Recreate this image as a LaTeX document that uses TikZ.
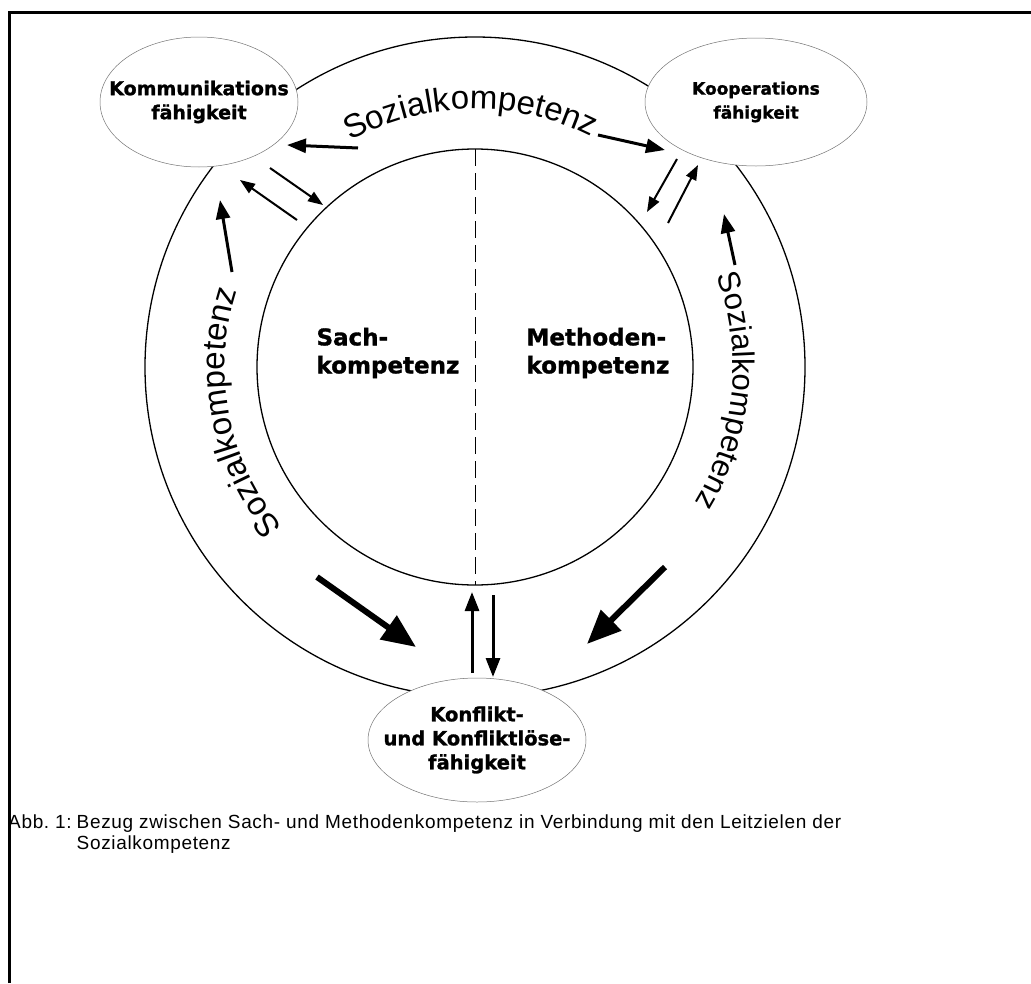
\documentclass[tikz,border=0pt]{standalone}
\usepackage{fontspec}
\setmainfont{Liberation Sans}
\newfontfamily\heavyfont[BoldFeatures={FakeBold=1.3}]{DejaVu Sans}
\newfontfamily\capfont[LetterSpace=3.5]{Liberation Sans}
\usetikzlibrary{shapes.geometric,arrows.meta,decorations.text}

\begin{document}
\begin{tikzpicture}[x=1pt,y=1pt,
    field/.style={ellipse,draw=black!55,line width=.5pt,fill=white,
        inner xsep=-20pt,inner ysep=0pt,align=center,
        font=\heavyfont\bfseries\fontsize{19}{24}\selectfont},
    core/.style={anchor=west,align=left,
        font=\heavyfont\bfseries\fontsize{23}{28}\selectfont},
    ring/.style={line width=1.3pt},
    thinarr/.style={-{Triangle[length=15pt,width=11pt]},line width=2pt},
    midarr/.style={-{Triangle[length=19pt,width=14pt]},line width=3pt},
    bigarr/.style={-{Triangle[length=34pt,width=28pt]},line width=6pt},
    soz/.style={decorate,decoration={text along path,text align=center,
        text={|\fontsize{#1}{#1}\selectfont|Sozialkompetenz}}}]

    \useasboundingbox (0,0) rectangle (1031,-983);

    % frame
    \draw[line width=3pt] (9,-983) -- (9,-12) -- (1031,-12);

    % the rings
    \coordinate (ctr) at (475,-367);
    \coordinate (ctop) at (475,-149);
    \coordinate (cbot) at (475,-585);
    \draw[ring] (ctr) circle[radius=330];
    \draw[ring] (ctr) circle[radius=218];
    \draw[dash pattern=on 17pt off 7pt,line width=1pt] (ctop) -- (cbot);

    % the curved texts
    \path[soz=33] ([shift={(131:258)}]ctr) arc[start angle=131,end angle=51,radius=258];
    \path[soz=33] ([shift={(236:250)}]ctr) arc[start angle=236,end angle=146,radius=250];
    \path[soz=31] ([shift={(37:258)}]ctr) arc[start angle=37,end angle=-48,radius=258];

    % the fields
    \node[field,minimum width=198,minimum height=130] (komm) at (199,-102)
        {Kommunikations\\fähigkeit};
    \node[field,minimum width=222,minimum height=128,
        font=\heavyfont\bfseries\fontsize{17}{24}\selectfont] (koop) at (756,-102)
        {Kooperations\\fähigkeit};
    \node[field,minimum width=218,minimum height=124,
        font=\heavyfont\bfseries\fontsize{19.5}{24}\selectfont] (konf) at (477,-740)
        {Konflikt-\\und Konfliktlöse-\\fähigkeit};

    \node[core] (sach) at (313,-353) {Sach-\\kompetenz};
    \node[core] (meth) at (523,-353) {Methoden-\\kompetenz};

    % the arrows
    \coordinate (tl1) at (358,-148); \coordinate (tl2) at (287,-145);
    \coordinate (tr1) at (598,-135); \coordinate (tr2) at (665,-150);
    \coordinate (ka1) at (270,-168); \coordinate (ka2) at (323,-205);
    \coordinate (kb1) at (297,-220); \coordinate (kb2) at (240,-180);
    \coordinate (oa1) at (677,-159); \coordinate (oa2) at (647,-212);
    \coordinate (ob1) at (668,-223); \coordinate (ob2) at (698,-165);
    \coordinate (lu1) at (232,-272); \coordinate (lu2) at (220,-200);
    \coordinate (ru1) at (735,-265); \coordinate (ru2) at (724,-214);
    \coordinate (bl1) at (317,-577); \coordinate (bl2) at (416,-647);
    \coordinate (br1) at (665,-567); \coordinate (br2) at (587,-644);
    \coordinate (bu1) at (472,-673); \coordinate (bu2) at (472,-592);
    \coordinate (bd1) at (493,-595); \coordinate (bd2) at (493,-677);

    \draw[midarr] (tl1) -- (tl2);
    \draw[midarr] (tr1) -- (tr2);
    \draw[thinarr] (ka1) -- (ka2);
    \draw[thinarr] (kb1) -- (kb2);
    \draw[thinarr] (oa1) -- (oa2);
    \draw[thinarr] (ob1) -- (ob2);
    \draw[midarr] (lu1) -- (lu2);
    \draw[midarr] (ru1) -- (ru2);
    \draw[bigarr] (bl1) -- (bl2);
    \draw[bigarr] (br1) -- (br2);
    \draw[midarr] (bu1) -- (bu2);
    \draw[midarr] (bd1) -- (bd2);

    % caption
    \node[anchor=base west,inner sep=0pt,font=\capfont\fontsize{19}{21}\selectfont] (cap) at (8,-828)
        {\begin{tabular}[t]{@{}l@{\hspace{5pt}}l@{}}
        Abb.~1: & Bezug zwischen Sach- und Methodenkompetenz in Verbindung mit den Leitzielen der\\
        & Sozialkompetenz
        \end{tabular}};
\end{tikzpicture}
\end{document}
